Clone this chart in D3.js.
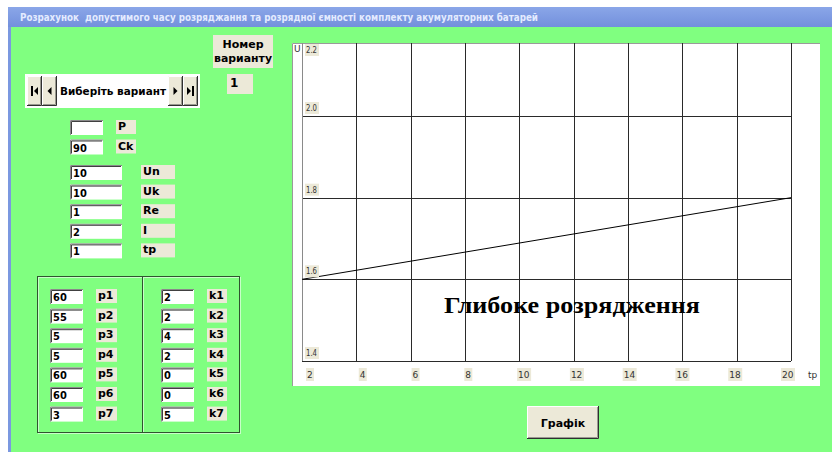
<!DOCTYPE html>
<html>
<head>
<meta charset="utf-8">
<title>Розрахунок</title>
<style>
  body { margin: 0; background: #fff; }
  svg text { font-family: "DejaVu Sans", "Liberation Sans", sans-serif; }
</style>
</head>
<body>
<div id="chart"></div>
<script src="https://d3js.org/d3.v7.min.js"></script>
<script>
// --- chart data ---
var xTicks = [2, 4, 6, 8, 10, 12, 14, 16, 18, 20];
var yTicks = [1.4, 1.6, 1.8, 2.0, 2.2];
var tp = [2, 20];
var U = [1.6, 1.8];

// --- form values ---
var topNames = ['P', 'Ck'];
var topValues = ['', '90'];
var midNames = ['Un', 'Uk', 'Re', 'I', 'tp'];
var midValues = ['10', '10', '1', '2', '1'];
var pNames = ['p1', 'p2', 'p3', 'p4', 'p5', 'p6', 'p7'];
var pValues = ['60', '55', '5', '5', '60', '60', '3'];
var kNames = ['k1', 'k2', 'k3', 'k4', 'k5', 'k6', 'k7'];
var kValues = ['2', '2', '4', '2', '0', '0', '5'];

var W = 832, H = 452;
var beige = '#ece9d8';
var svg = d3.select('#chart').append('svg')
    .attr('width', W).attr('height', H);

// window frame
svg.append('rect').attr('width', W).attr('height', H).attr('fill', '#fff');
svg.append('rect').attr('x', 8).attr('y', 27).attr('width', W - 8).attr('height', H - 27).attr('fill', '#7b98e0');
svg.append('rect').attr('x', 11).attr('y', 27).attr('width', W - 11).attr('height', H - 27).attr('fill', '#80ff80');
var grad = svg.append('defs').append('linearGradient').attr('id', 'tb')
    .attr('x1', 0).attr('y1', 0).attr('x2', 0).attr('y2', 1);
grad.append('stop').attr('offset', 0).attr('stop-color', '#8aa6e8');
grad.append('stop').attr('offset', 1).attr('stop-color', '#7390dc');
svg.append('rect').attr('x', 8).attr('y', 7).attr('width', W - 8).attr('height', 20).attr('fill', 'url(#tb)');
svg.append('text').attr('x', 20).attr('y', 21)
    .attr('font-size', 10).attr('font-weight', 'bold').attr('fill', '#e4ebff')
    .attr('textLength', 518).attr('lengthAdjust', 'spacingAndGlyphs')
    .text('Розрахунок\u00a0 допустимого часу розряджання та розрядної ємності комплекту акумуляторних батарей');

// helpers
function sunken(x0, y0, w, h, val) {
  var g = svg.append('g');
  g.append('rect').attr('x', x0).attr('y', y0).attr('width', w).attr('height', h).attr('fill', '#fff');
  g.append('path').attr('d', 'M' + (x0 + 0.5) + ',' + (y0 + h) + 'V' + (y0 + 0.5) + 'H' + (x0 + w))
    .attr('stroke', '#8a8a8a').attr('fill', 'none');
  g.append('path').attr('d', 'M' + (x0 + 1.5) + ',' + (y0 + h - 1) + 'V' + (y0 + 1.5) + 'H' + (x0 + w - 1))
    .attr('stroke', '#404040').attr('fill', 'none');
  g.append('text').attr('x', x0 + 3).attr('y', y0 + h - 3)
    .attr('font-size', 11).attr('font-weight', 'bold')
    .style('font-family', '"Liberation Sans Narrow", "DejaVu Sans Condensed", sans-serif')
    .text(val);
}
function label(x0, y0, w, h, t) {
  var g = svg.append('g');
  g.append('rect').attr('x', x0).attr('y', y0).attr('width', w).attr('height', h).attr('fill', beige);
  g.append('text').attr('x', x0 + 2).attr('y', y0 + h - 4)
    .attr('font-size', 11).attr('font-weight', 'bold').text(t);
}
function raised(x0, y0, w, h) {
  var g = svg.append('g');
  g.append('rect').attr('x', x0).attr('y', y0).attr('width', w).attr('height', h).attr('fill', beige);
  g.append('path').attr('d', 'M' + (x0 + 0.5) + ',' + (y0 + h) + 'V' + (y0 + 0.5) + 'H' + (x0 + w))
    .attr('stroke', '#fff').attr('fill', 'none');
  g.append('path').attr('d', 'M' + x0 + ',' + (y0 + h - 0.5) + 'H' + (x0 + w - 0.5) + 'V' + y0)
    .attr('stroke', '#303030').attr('fill', 'none');
  g.append('path').attr('d', 'M' + (x0 + 1) + ',' + (y0 + h - 1.5) + 'H' + (x0 + w - 1.5) + 'V' + (y0 + 1))
    .attr('stroke', '#9a9a90').attr('fill', 'none');
  return g;
}

// navigator
svg.append('rect').attr('x', 25).attr('y', 74).attr('width', 175).attr('height', 34).attr('fill', '#fff');
svg.append('text').attr('x', 60).attr('y', 95).attr('font-size', 11).attr('font-weight', 'bold')
    .attr('textLength', 106).attr('lengthAdjust', 'spacingAndGlyphs').text('Виберіть вариант');
var navBtns = [
  { x: 27, kind: 'first' }, { x: 42, kind: 'prev' },
  { x: 168, kind: 'next' }, { x: 183, kind: 'last' }
];
navBtns.forEach(function(b) {
  var g = raised(b.x, 76, 15, 30);
  var cx = b.x + 7.5, cy = 91;
  var left = (b.kind === 'first' || b.kind === 'prev');
  var tri = left
    ? 'M' + (cx + 2) + ',' + (cy - 4) + 'L' + (cx - 2) + ',' + cy + 'L' + (cx + 2) + ',' + (cy + 4) + 'Z'
    : 'M' + (cx - 2) + ',' + (cy - 4) + 'L' + (cx + 2) + ',' + cy + 'L' + (cx - 2) + ',' + (cy + 4) + 'Z';
  var off = b.kind === 'first' ? 1.5 : (b.kind === 'last' ? -1.5 : 0);
  g.append('path').attr('d', tri).attr('transform', 'translate(' + off + ',0)').attr('fill', '#000');
  if (b.kind === 'first') {
    g.append('rect').attr('x', cx - 3.5).attr('y', cy - 5).attr('width', 2).attr('height', 10).attr('fill', '#000');
  }
  if (b.kind === 'last') {
    g.append('rect').attr('x', cx + 1.5).attr('y', cy - 5).attr('width', 2).attr('height', 10).attr('fill', '#000');
  }
});

// "Номер варианту"
svg.append('rect').attr('x', 213).attr('y', 35).attr('width', 60).attr('height', 33).attr('fill', beige);
svg.append('text').attr('x', 243).attr('y', 48).attr('text-anchor', 'middle')
    .attr('font-size', 11).attr('font-weight', 'bold').text('Номер');
svg.append('text').attr('x', 243).attr('y', 62).attr('text-anchor', 'middle')
    .attr('font-size', 11).attr('font-weight', 'bold')
    .attr('textLength', 58).attr('lengthAdjust', 'spacingAndGlyphs').text('варианту');
svg.append('rect').attr('x', 227).attr('y', 74).attr('width', 26).attr('height', 20).attr('fill', beige);
svg.append('text').attr('x', 230).attr('y', 87).attr('font-size', 12).attr('font-weight', 'bold').text('1');

// top fields
topNames.forEach(function(n, i) {
  var yy = 120 + i * 19.5;
  sunken(70, yy, 33, 15, topValues[i]);
  label(116, yy, 20, 14, n);
});
midNames.forEach(function(n, i) {
  var yy = 165 + i * 19.6;
  sunken(70, yy, 52, 15, midValues[i]);
  label(141, yy, 34, 14, n);
});

// group box
var gb = svg.append('g').attr('fill', 'none');
gb.append('rect').attr('x', 38.5).attr('y', 277.5).attr('width', 202).attr('height', 156).attr('stroke', '#c8ffc8');
gb.append('rect').attr('x', 37.5).attr('y', 276.5).attr('width', 202).attr('height', 156).attr('stroke', '#2f552f');
gb.append('line').attr('x1', 142.5).attr('x2', 142.5).attr('y1', 277).attr('y2', 432).attr('stroke', '#2f552f');
gb.append('line').attr('x1', 143.5).attr('x2', 143.5).attr('y1', 277).attr('y2', 432).attr('stroke', '#c8ffc8');
pNames.forEach(function(n, i) {
  var yy = 289 + i * 19.6;
  sunken(50, yy, 33, 15, pValues[i]);
  label(96, yy, 21, 14, n);
});
kNames.forEach(function(n, i) {
  var yy = 289 + i * 19.6;
  sunken(161, yy, 33, 15, kValues[i]);
  label(207, yy, 20, 14, n);
});

// button
raised(527, 406, 72, 33);
svg.append('text').attr('x', 563).attr('y', 427).attr('text-anchor', 'middle')
    .attr('font-size', 11).attr('font-weight', 'bold').text('Графік');

// --- chart panel ---
var panel = { left: 292, top: 43, right: 820, bottom: 386 };
var plot = { left: 302, right: 791, top: 43, bottom: 361 };
svg.append('rect').attr('x', panel.left).attr('y', panel.top)
    .attr('width', panel.right - panel.left).attr('height', panel.bottom - panel.top).attr('fill', '#fff');
svg.append('path').attr('d', 'M' + (panel.left + 0.5) + ',' + panel.bottom + 'V' + (panel.top + 0.5) + 'H' + panel.right)
    .attr('stroke', '#9a9a9a').attr('fill', 'none');

var x = d3.scaleLinear().domain([2, 20]).range([plot.left, plot.right]);
var y = d3.scaleLinear().domain([1.4, 2.0]).range([plot.bottom, 116]);
var xLab = d3.scaleLinear().domain([2, 20]).range([plot.left + 5, plot.right - 9]);

svg.append('g')
    .attr('transform', 'translate(0,' + plot.bottom + ')')
    .call(d3.axisBottom(x).tickValues(xTicks).tickSize(-(plot.bottom - plot.top)).tickFormat(''))
    .call(function(g) { g.select('.domain').remove(); })
    .selectAll('line').attr('stroke', '#2a2a2a').attr('shape-rendering', 'crispEdges');

svg.append('g')
    .attr('transform', 'translate(' + plot.left + ',0)')
    .call(d3.axisLeft(y).tickValues(yTicks.filter(function(v) { return y(v) >= plot.top; }))
      .tickSize(-(plot.right - plot.left)).tickFormat(''))
    .call(function(g) { g.select('.domain').remove(); })
    .selectAll('line').attr('stroke', '#2a2a2a').attr('shape-rendering', 'crispEdges');

svg.append('line').attr('x1', plot.left + 0.5).attr('x2', plot.left + 0.5)
    .attr('y1', plot.top).attr('y2', plot.bottom).attr('stroke', '#8a8a8a');

// data line
var pts = tp.map(function(t, i) { return { t: t, u: U[i] }; });
svg.append('path').datum(pts)
    .attr('d', d3.line().x(function(d) { return x(d.t); }).y(function(d) { return y(d.u); }))
    .attr('stroke', '#000').attr('stroke-width', 1).attr('fill', 'none');

// tick labels
var fmtY = d3.format('.1f');
yTicks.forEach(function(v) {
  var by = Math.max(y(v) - 5, plot.top + 10);
  svg.append('rect').attr('x', 305).attr('y', by - 9).attr('width', 14).attr('height', 12).attr('fill', beige);
  svg.append('text').attr('x', 306).attr('y', by).attr('font-size', 9).attr('fill', '#333')
      .attr('textLength', 11).attr('lengthAdjust', 'spacingAndGlyphs').text(fmtY(v));
});
xTicks.forEach(function(v) {
  var s = String(v);
  var w = s.length * 6 + 2;
  svg.append('rect').attr('x', xLab(v) - 1).attr('y', 368).attr('width', w).attr('height', 13).attr('fill', beige);
  svg.append('text').attr('x', xLab(v)).attr('y', 378).attr('font-size', 9).attr('fill', '#333').text(s);
});
svg.append('text').attr('x', 808).attr('y', 378).attr('font-size', 9).attr('fill', '#333').text('tp');
svg.append('text').attr('x', 294).attr('y', 52).attr('font-size', 9).attr('fill', '#333').text('U');

svg.append('text').attr('x', 444).attr('y', 313)
    .style('font-family', '"Liberation Serif", "Times New Roman", serif')
    .attr('font-size', 24).attr('font-weight', 'bold')
    .attr('textLength', 256).attr('lengthAdjust', 'spacingAndGlyphs')
    .text('Глибоке розрядження');
</script>
</body>
</html>
